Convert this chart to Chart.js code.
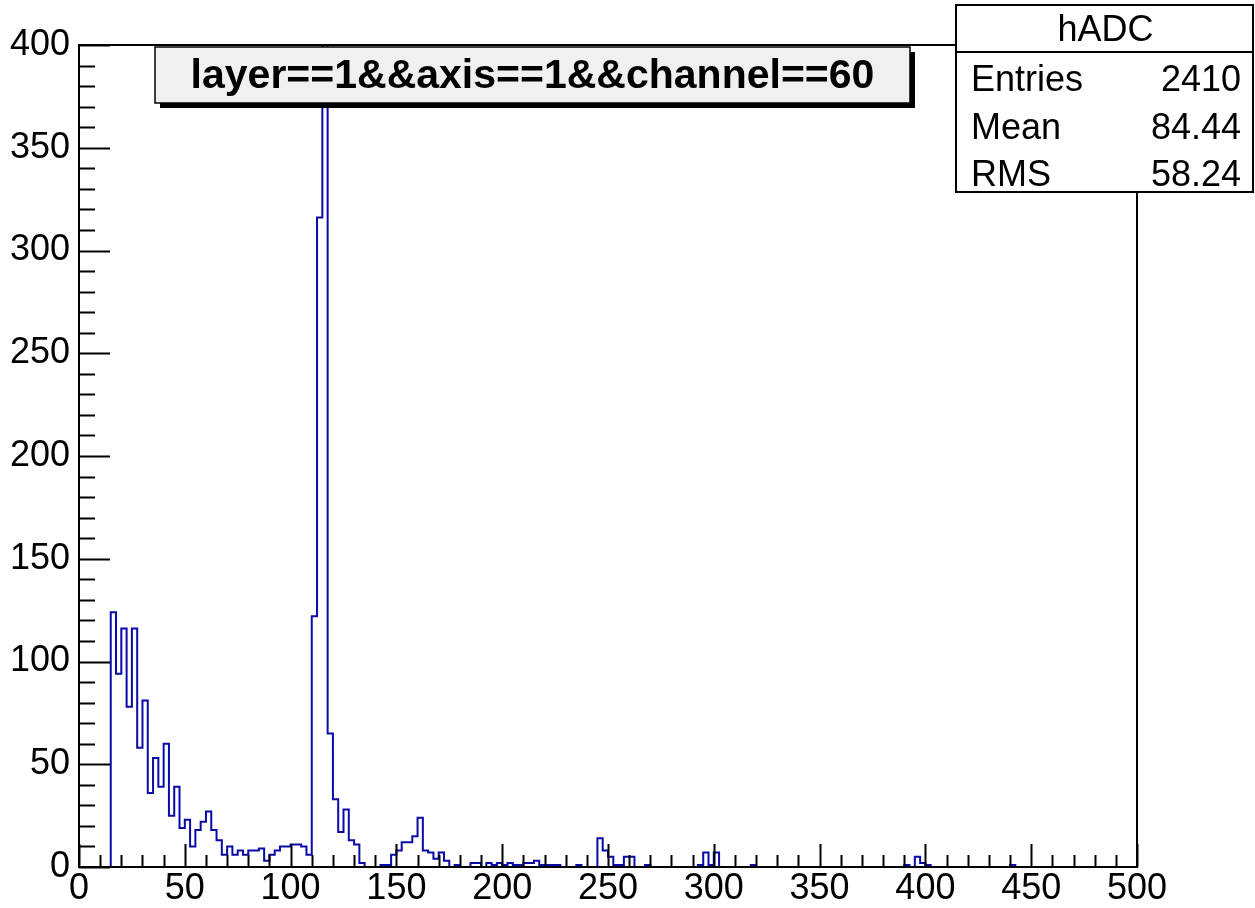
<!DOCTYPE html>
<html>
<head>
<meta charset="utf-8">
<title>hADC</title>
<script src="https://cdn.jsdelivr.net/npm/chart.js@4.4.1/dist/chart.umd.min.js"></script>
<style>
  body { margin: 0; background: #ffffff; }
  #wrap { width: 1255px; height: 908px; }
</style>
</head>
<body>
<div id="wrap"><canvas id="myChart" width="1255" height="908"></canvas></div>
<script>
// histogram hADC : 200 bins from 0 to 500 (width 2.5)
var binLow = 0;
var binWidth = 2.5;
var counts = [
  0, 0, 0, 0, 0, 0, 124, 94, 116, 78, 116, 58, 81, 36, 53, 39, 60, 25, 39, 19,      // 0 - 47.5
  23, 10, 18, 22, 27, 18, 13, 6, 10, 6, 8, 6, 8, 8, 9, 3, 6, 8, 10, 10,            // 50 - 97.5
  11, 11, 10, 6, 122, 316, 430, 65, 33, 17, 28, 13, 11, 2, 0, 0, 0, 1, 1, 6,       // 100 - 147.5
  8, 12, 12, 15, 24, 8, 7, 4, 7, 3, 0, 1, 0, 0, 2, 2, 0, 2, 1, 2,                  // 150 - 197.5
  1, 2, 1, 1, 2, 2, 3, 1, 1, 1, 1, 0, 0, 0, 1, 0, 0, 0, 14, 8,                     // 200 - 247.5
  5, 1, 1, 5, 5, 0, 0, 1, 0, 0, 0, 0, 0, 0, 0, 0, 0, 1, 7, 1,                      // 250 - 297.5
  7, 0, 0, 0, 0, 0, 0, 1, 0, 0, 0, 0, 0, 0, 0, 0, 0, 0, 0, 0,                      // 300 - 347.5
  0, 0, 0, 0, 0, 0, 0, 0, 0, 0, 0, 0, 0, 0, 0, 0, 1, 0, 5, 2,                      // 350 - 397.5
  1, 0, 0, 0, 0, 0, 0, 0, 0, 0, 0, 0, 0, 0, 0, 0, 1, 0, 0, 0,                      // 400 - 447.5
  0, 0, 0, 0, 0, 0, 0, 0, 0, 0, 0, 0, 0, 0, 0, 0, 0, 0, 0, 0                       // 450 - 497.5
];
var xTicks = [0, 50, 100, 150, 200, 250, 300, 350, 400, 450, 500];
var yTicks = [0, 50, 100, 150, 200, 250, 300, 350, 400];

var titleText = "layer==1&&axis==1&&channel==60";
var statsName = "hADC";
var statsLabels = ["Entries", "Mean", "RMS"];
var statsValues = ["2410", "84.44", "58.24"];

var fontFam = "'Liberation Sans', Arial, Helvetica, sans-serif";
var histColor = "#0a0aa8";

// step points: low edge of every bin (value held until next edge) + closing edge
function histPoints() {
  var pts = [];
  for (var i = 0; i < counts.length; i++) {
    pts.push({ x: binLow + i * binWidth, y: counts[i] });
  }
  pts.push({ x: binLow + counts.length * binWidth, y: 0 });
  return pts;
}

// ROOT style frame, inner ticks, title pave and stats box
var rootDecor = {
  id: "rootDecor",
  afterDraw: function(chart) {
    var ctx = chart.ctx;
    var a = chart.chartArea;
    var xs = chart.scales.x;
    var ys = chart.scales.y;
    ctx.save();
    ctx.strokeStyle = "#000";
    ctx.lineWidth = 2;
    ctx.strokeRect(a.left, a.top, a.right - a.left, a.bottom - a.top);

    // x ticks (inside, from bottom)
    ctx.lineWidth = 2;
    ctx.beginPath();
    for (var v = 0; v <= 500; v += 10) {
      var px = Math.round(xs.getPixelForValue(v)) + 0.5;
      var len = (v % 50 === 0) ? 23 : 12;
      ctx.moveTo(px, a.bottom);
      ctx.lineTo(px, a.bottom - len);
    }
    // y ticks (inside, from left)
    for (var w = 0; w <= 400; w += 10) {
      var py = Math.round(ys.getPixelForValue(w)) + 0.5;
      var ln = (w % 50 === 0) ? 31 : 16;
      ctx.moveTo(a.left, py);
      ctx.lineTo(a.left + ln, py);
    }
    ctx.stroke();

    // title pave with shadow
    var tx = 155, ty = 47, tw = 755, th = 56;
    ctx.fillStyle = "#000";
    ctx.fillRect(tx + 5, ty + 5, tw, th);
    ctx.fillStyle = "#f0f0f0";
    ctx.fillRect(tx, ty, tw, th);
    ctx.lineWidth = 1.5;
    ctx.strokeRect(tx, ty, tw, th);
    ctx.fillStyle = "#000";
    ctx.font = "bold 41px " + fontFam;
    ctx.textAlign = "center";
    ctx.textBaseline = "alphabetic";
    ctx.fillText(titleText, tx + tw / 2, ty + 41);

    // stats box
    var sx = 956, sy = 5, sw = 297, sh = 187;
    ctx.fillStyle = "#fff";
    ctx.fillRect(sx, sy, sw, sh);
    ctx.lineWidth = 2;
    ctx.strokeRect(sx, sy, sw, sh);
    ctx.beginPath();
    ctx.moveTo(sx, 52);
    ctx.lineTo(sx + sw, 52);
    ctx.stroke();
    ctx.fillStyle = "#000";
    ctx.font = "36px " + fontFam;
    ctx.textAlign = "center";
    ctx.fillText(statsName, sx + sw / 2 + 1, 41);
    var rowY = [91, 139, 186];
    for (var k = 0; k < statsLabels.length; k++) {
      ctx.textAlign = "left";
      ctx.fillText(statsLabels[k], 971, rowY[k]);
      ctx.textAlign = "right";
      ctx.fillText(statsValues[k], 1241, rowY[k]);
    }
    ctx.restore();
  }
};

var config = {
  type: "line",
  data: {
    datasets: [{
      label: statsName,
      data: histPoints(),
      stepped: "before",
      borderColor: histColor,
      borderWidth: 2,
      pointRadius: 0,
      fill: false
    }]
  },
  options: {
    responsive: false,
    animation: false,
    layout: { padding: { top: 45, right: 118, left: 0, bottom: 0 } },
    plugins: { legend: { display: false }, tooltip: { enabled: false } },
    scales: {
      x: {
        type: "linear",
        min: 0,
        max: 500,
        afterBuildTicks: function(s) { s.ticks = xTicks.map(function(v) { return { value: v }; }); },
        afterFit: function(s) { s.height = 41; },
        grid: { display: false, drawTicks: false },
        border: { display: false },
        ticks: { autoSkip: false, maxRotation: 0, padding: 0, color: "#000", font: { size: 36, family: fontFam } }
      },
      y: {
        min: 0,
        max: 400,
        afterBuildTicks: function(s) { s.ticks = yTicks.map(function(v) { return { value: v }; }); },
        afterFit: function(s) { s.width = 79; },
        grid: { display: false, drawTicks: false },
        border: { display: false },
        ticks: { autoSkip: false, padding: 9, color: "#000", font: { size: 36, family: fontFam } }
      }
    }
  },
  plugins: [rootDecor]
};

window.onload = function() {
  var ctx = document.getElementById("myChart").getContext("2d");
  window.myLine = new Chart(ctx, config);
};
</script>
</body>
</html>
